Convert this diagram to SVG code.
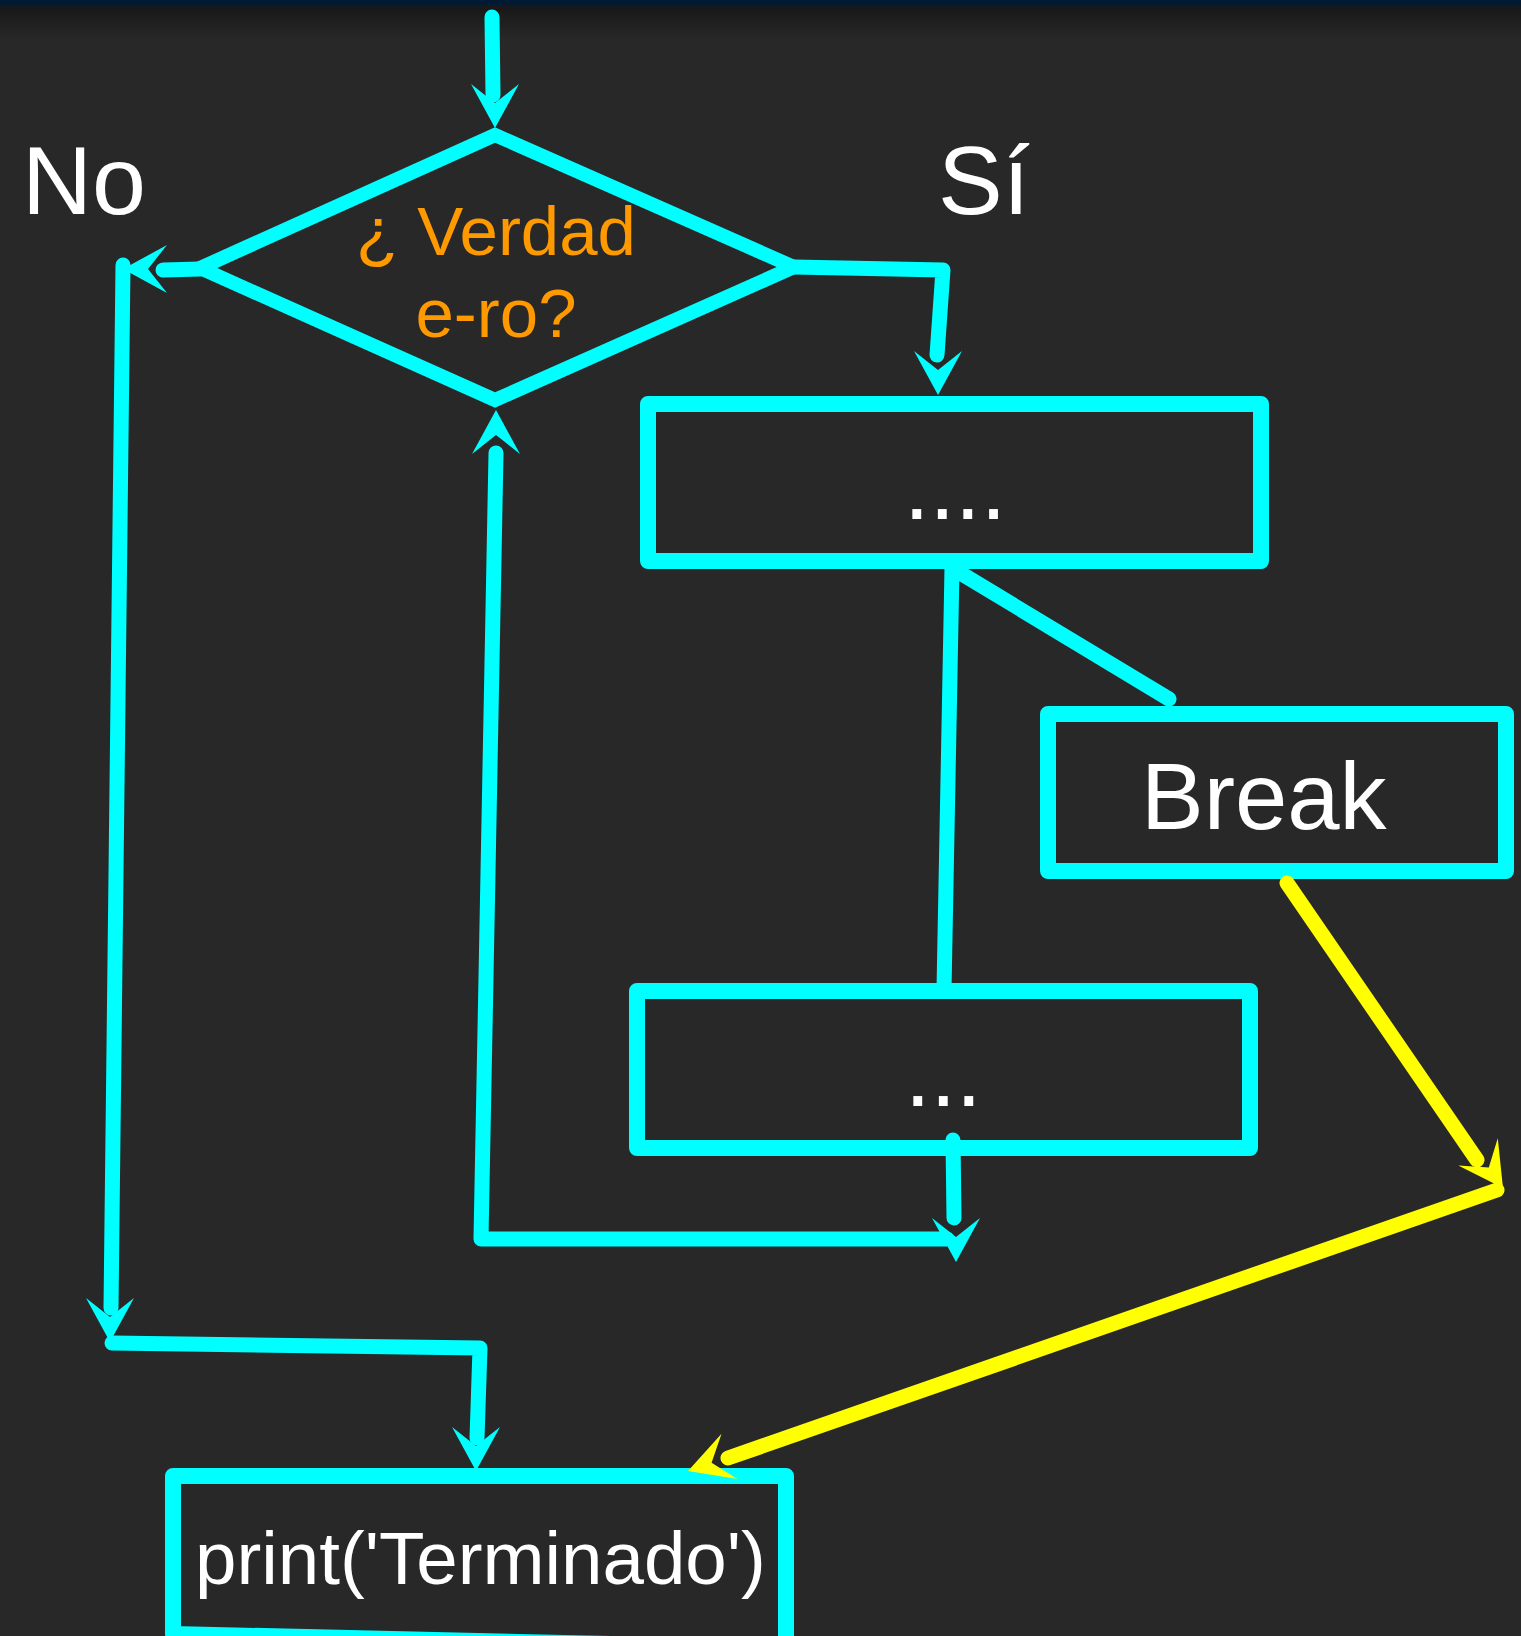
<svg xmlns="http://www.w3.org/2000/svg" xmlns:xlink="http://www.w3.org/1999/xlink" width="1521" height="1636" viewBox="0 0 1521 1636">
  <style>
    .bg { fill: #282828; }
    .node { fill: none; stroke: #00ffff; stroke-width: 16; stroke-linejoin: round; }
    .dia { fill: none; stroke: #00ffff; stroke-width: 14; stroke-linejoin: miter; }
    .ln { fill: none; stroke: #00ffff; stroke-width: 15; stroke-linecap: round; stroke-linejoin: round; }
    .yl { fill: none; stroke: #ffff00; stroke-width: 15; stroke-linecap: round; stroke-linejoin: round; }
    .ahc { fill: #00ffff; }
    .ahy { fill: #ffff00; }
    .lbl { font-family: "Liberation Sans", Arial, sans-serif; fill: #ffffff; }
    .q { font-family: "Liberation Sans", Arial, sans-serif; fill: #ff9900; font-size: 69px; text-anchor: middle; }
  </style>
  <defs>
    <linearGradient id="topShade" x1="0" y1="0" x2="0" y2="1">
      <stop offset="0" stop-color="#171717"/>
      <stop offset="1" stop-color="#282828"/>
    </linearGradient>
    <path id="ah" d="M0,0 L-44,-24 L-25,0 L-44,24 Z"/>
  </defs>

  <rect class="bg" x="0" y="0" width="1521" height="1636"/>
  <rect x="0" y="5" width="1521" height="35" fill="url(#topShade)"/>
  <rect x="0" y="0" width="1521" height="5" fill="#011a33"/>

  <g id="labels">
    <text class="lbl" x="22" y="214" font-size="97">No</text>
    <text class="lbl" x="938" y="214" font-size="97">Sí</text>
  </g>

  <g id="decision">
    <polygon class="dia" points="495,135 794,267 495,400 200,268"/>
    <text class="q" x="496" y="255">¿ Verdad</text>
    <text class="q" x="496" y="337">e-ro?</text>
  </g>

  <g id="box1">
    <rect class="node" x="648" y="404" width="613" height="157"/>
    <text class="lbl" x="904" y="519" font-size="92">....</text>
  </g>

  <g id="breakBox">
    <rect class="node" x="1048" y="714" width="458" height="157"/>
    <text class="lbl" x="1141" y="829" font-size="94">Break</text>
  </g>

  <g id="box2">
    <rect class="node" x="637" y="991" width="613" height="157"/>
    <text class="lbl" x="905" y="1106" font-size="92">...</text>
  </g>

  <g id="printBox">
    <path class="node" d="M173,1476 L786,1476 L786,1648 L173,1634 Z"/>
    <text class="lbl" x="195" y="1584" font-size="74.5">print('Terminado')</text>
  </g>

  <g id="connectors">
    <line class="ln" x1="492" y1="17" x2="493" y2="95"/>
    <use href="#ah" class="ahc" transform="translate(495,128) rotate(90)"/>

    <line class="ln" x1="200" y1="269" x2="163" y2="270"/>
    <use href="#ah" class="ahc" transform="translate(123,269) rotate(180)"/>
    <line class="ln" x1="123" y1="265" x2="111" y2="1308"/>
    <use href="#ah" class="ahc" transform="translate(110,1342) rotate(90)"/>
    <polyline class="ln" points="112,1343 480,1348 477,1438"/>
    <use href="#ah" class="ahc" transform="translate(476,1471) rotate(90)"/>

    <polyline class="ln" points="794,267 943,270 937,355"/>
    <use href="#ah" class="ahc" transform="translate(938,395) rotate(90)"/>

    <line class="ln" x1="952" y1="568" x2="944" y2="990"/>
    <line class="ln" x1="952" y1="568" x2="1169" y2="699"/>

    <line class="ln" x1="953" y1="1140" x2="954" y2="1218"/>
    <use href="#ah" class="ahc" transform="translate(956,1262) rotate(90)"/>

    <polyline class="ln" points="947,1239 481,1239 496,453"/>
    <use href="#ah" class="ahc" transform="translate(496,410) rotate(-90)"/>

    <line class="yl" x1="1287" y1="883" x2="1477" y2="1160" stroke-width="14"/>
    <use href="#ah" class="ahy" transform="translate(1503,1188) rotate(55.4)"/>
    <line class="yl" x1="1497" y1="1190" x2="728" y2="1458"/>
    <use href="#ah" class="ahy" transform="translate(688,1471) rotate(160.6)"/>
  </g>
</svg>
